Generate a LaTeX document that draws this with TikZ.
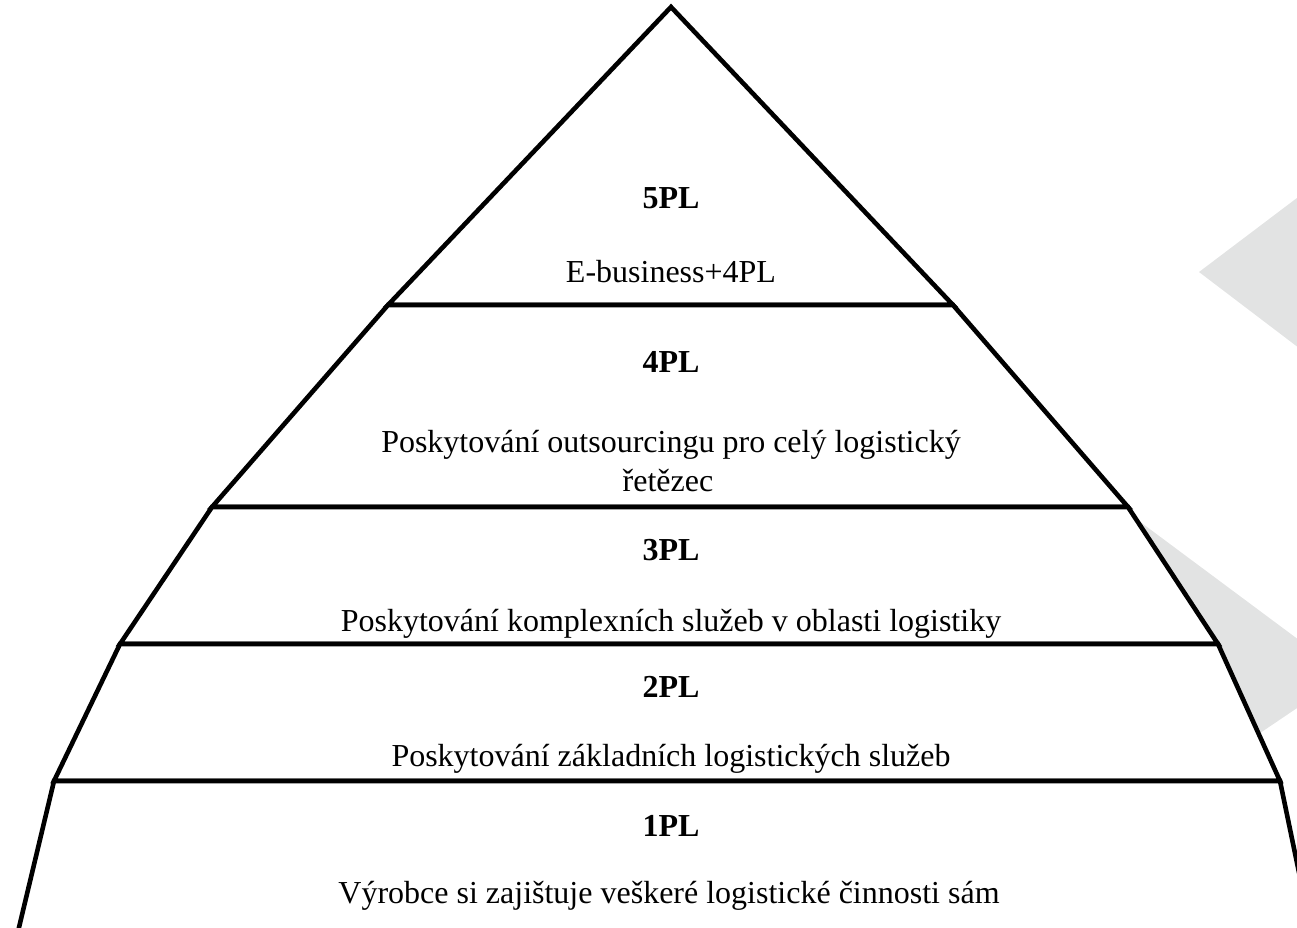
\documentclass[tikz,border=0pt]{standalone}
\usepackage{fontspec}
\setmainfont{Liberation Serif}
\usepackage{xcolor}
\definecolor{wmgray}{RGB}{226,227,227}

\begin{document}
\begin{tikzpicture}[x=1pt,y=-1pt,line width=4.6pt,
    level/.style={draw=black,fill=white,line join=miter},
    title/.style={anchor=base,inner sep=0pt,font=\fontsize{32}{38}\selectfont\bfseries},
    desc/.style={anchor=base,inner sep=0pt,font=\fontsize{32}{38}\selectfont}]
  \useasboundingbox (0,0) rectangle (1297,927);
  \clip (0,0) rectangle (1297,927);

  % background shapes
  \fill[wmgray] (1199,272) -- (1420,105) -- (1420,440) -- cycle;
  \fill[wmgray] (1100,492) -- (1346,675) -- (1100,841) -- cycle;

  % corners of the levels
  \coordinate (apex) at (671,7);
  \coordinate (l5) at (388,305);  \coordinate (r5) at (953,305);
  \coordinate (l4) at (212,507);  \coordinate (r4) at (1128,507);
  \coordinate (l3) at (120,644);  \coordinate (r3) at (1218,644);
  \coordinate (l2) at (54,781);   \coordinate (r2) at (1280,781);
  \coordinate (l1) at (16,940);   \coordinate (r1) at (1313,940);

  \draw[level] (apex) -- (r5) -- (l5) -- cycle;
  \draw[level] (l5) -- (r5) -- (r4) -- (l4) -- cycle;
  \draw[level] (l4) -- (r4) -- (r3) -- (l3) -- cycle;
  \draw[level] (l3) -- (r3) -- (r2) -- (l2) -- cycle;
  \draw[level] (l2) -- (r2) -- (r1) -- (l1) -- cycle;

  % labels
  \node[title] (t5) at (671,208) {5PL};
  \node[desc]  (d5) at (671,282) {E-business+4PL};
  \node[title] (t4) at (671,372) {4PL};
  \node[desc]  (d4) at (671,452) {Poskytování outsourcingu pro celý logistický};
  \node[desc]  (d4b) at (668,491) {řetězec};
  \node[title] (t3) at (671,560) {3PL};
  \node[desc]  (d3) at (671,631) {Poskytování komplexních služeb v oblasti logistiky};
  \node[title] (t2) at (671,697) {2PL};
  \node[desc]  (d2) at (671,766) {Poskytování základních logistických služeb};
  \node[title] (t1) at (671,836) {1PL};
  \node[desc]  (d1) at (669,903) {Výrobce si zajištuje veškeré logistické činnosti sám};
\end{tikzpicture}
\end{document}
